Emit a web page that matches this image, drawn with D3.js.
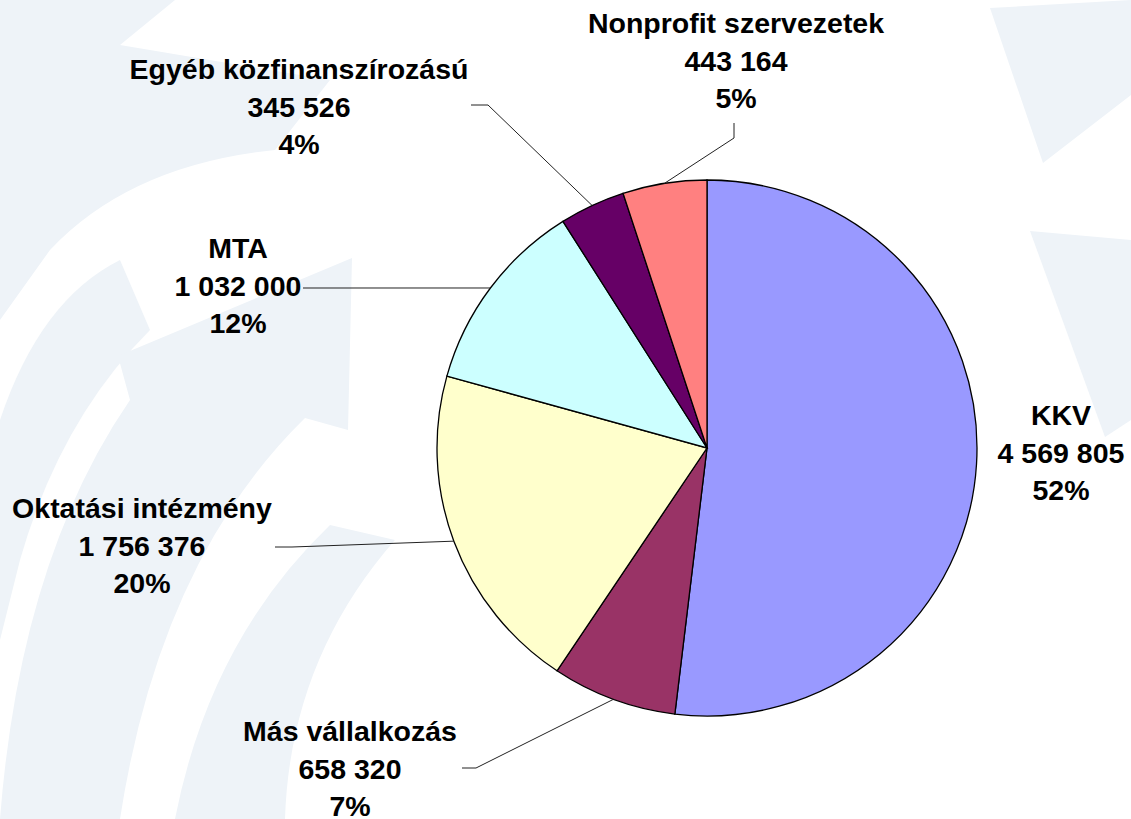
<!DOCTYPE html>
<html>
<head>
<meta charset="utf-8">
<script src="https://cdn.jsdelivr.net/npm/d3@7"></script>
<style>
  body { margin: 0; background: #fff; }
  svg { display: block; }
</style>
</head>
<body>
<svg id="chart" width="1131" height="819"></svg>
<script>
// data
const categories = ["KKV", "Más vállalkozás", "Oktatási intézmény", "MTA", "Egyéb közfinanszírozású", "Nonprofit szervezetek"]
const values = [4569805, 658320, 1756376, 1032000, 345526, 443164]
const colors = ["#9999ff", "#993366", "#ffffcc", "#ccffff", "#660066", "#ff8080"]

// label layout (text centre, first baseline, leader line start + elbow)
const labelX = [1061, 350, 142, 238, 299, 736]
const labelY = [425, 741, 518, 258, 79, 33]
const leaders = [
    null,
    [[462, 768], [476, 768]],
    [[275, 547], [292, 547]],
    [[303, 288], [303, 288]],
    [[471, 105], [488, 105]],
    [[734, 123], [734, 138]]
]

const width = 1131
const height = 819
const cx = 707, cy = 448
const rx = 270, ry = 268
const lineH = 37.5

const svg = d3.select("#chart")

// faint arrow watermark in the background
const bg = svg.append("g").attr("fill", "#eef3f8")
const bgShapes = [
    "M0,0 L175,0 L120,45 L330,80 L275,150 Q130,165 50,250 L0,320 Z",
    "M0,420 Q40,300 120,260 L150,330 Q60,420 20,560 L0,640 Z",
    "M0,819 Q20,560 130,400 L118,356 L352,258 L348,430 L305,418 Q160,560 120,819 Z",
    "M175,819 Q210,640 330,525 L395,540 Q290,660 285,819 Z",
    "M990,8 L1131,0 L1131,95 L1043,163 Z",
    "M1030,231 L1131,240 L1131,420 L1105,437 Z"
]
bg.selectAll("path")
    .data(bgShapes)
    .join("path")
    .attr("d", d => d)

const total = d3.sum(values)
const pct = values.map(v => Math.round(v / total * 100))

const pie = d3.pie().sort(null).value(d => d)
const arcs = pie(values)

const arcGen = d3.arc()
    .innerRadius(0)
    .outerRadius(rx)

const pieG = svg.append("g")
    .attr("transform", `translate(${cx},${cy}) scale(1,${ry / rx})`)

pieG.selectAll("path")
    .data(arcs)
    .join("path")
    .attr("d", arcGen)
    .attr("fill", (d, i) => colors[i])
    .attr("stroke", "#000")
    .attr("stroke-width", 1.3)
    .attr("vector-effect", "non-scaling-stroke")

// point on the ellipse edge at the slice's middle angle
function edgePoint(d) {
    const a = (d.startAngle + d.endAngle) / 2
    return [cx + rx * Math.sin(a), cy - ry * Math.cos(a)]
}

// leader lines
svg.append("g")
    .selectAll("polyline")
    .data(arcs.filter((d, i) => leaders[i]))
    .join("polyline")
    .attr("points", d => {
        const pts = leaders[d.index].concat([edgePoint(d)])
        return pts.map(p => p.join(",")).join(" ")
    })
    .attr("fill", "none")
    .attr("stroke", "#222")
    .attr("stroke-width", 1)

// labels
const labels = svg.append("g")
    .attr("font-family", "'Liberation Sans', Arial, sans-serif")
    .attr("font-weight", "bold")
    .attr("font-size", 28.5)
    .attr("text-anchor", "middle")
    .attr("fill", "#000")

labels.selectAll("text")
    .data(categories)
    .join("text")
    .attr("x", (d, i) => labelX[i])
    .attr("y", (d, i) => labelY[i])
    .each(function (d, i) {
        const lines = [d, d3.format(",")(values[i]).replace(/,/g, " "), pct[i] + "%"]
        d3.select(this).selectAll("tspan")
            .data(lines)
            .join("tspan")
            .attr("x", labelX[i])
            .attr("y", (t, j) => labelY[i] + j * lineH)
            .text(t => t)
    })
</script>
</body>
</html>
